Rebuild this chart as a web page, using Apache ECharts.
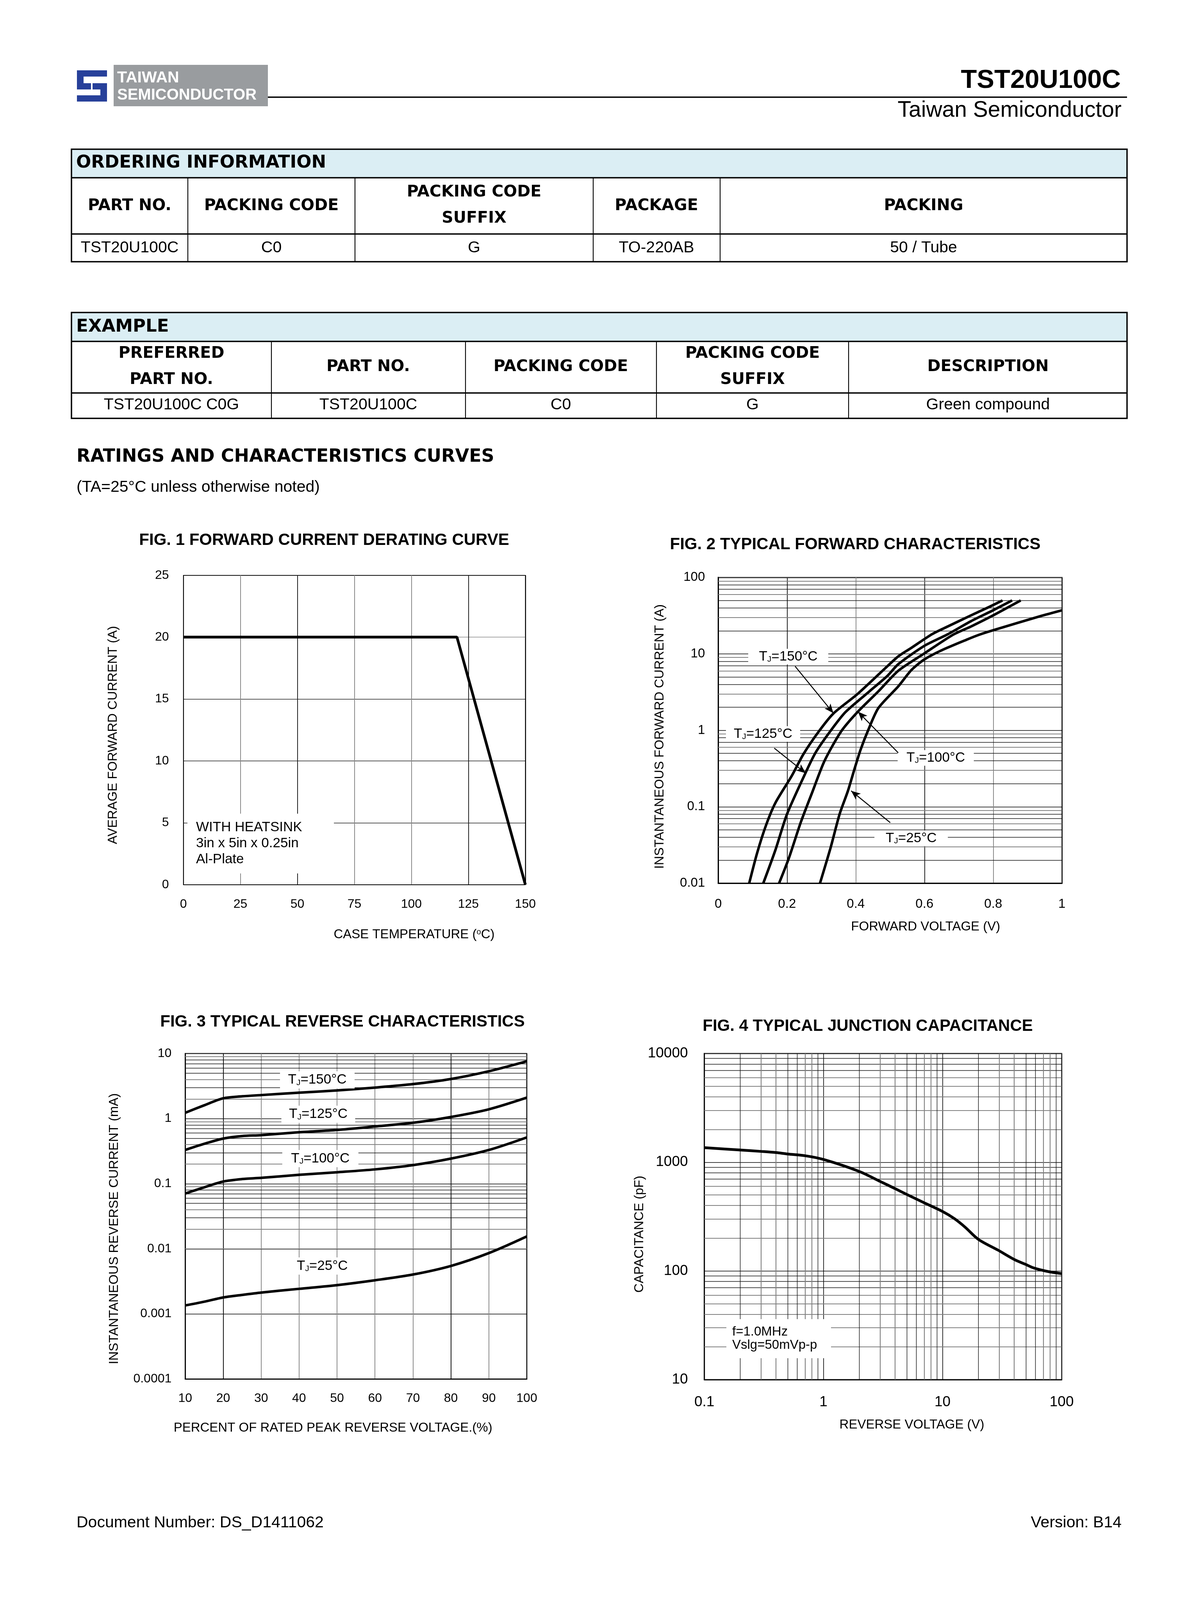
<!DOCTYPE html>
<html><head><meta charset="utf-8">
<script src="https://cdn.jsdelivr.net/npm/echarts@6/dist/echarts.min.js"></script>
<style>html,body{margin:0;padding:0;background:#fff}#c{width:3037px;height:4300px}</style>
</head><body><div id="c"></div>
<script>
const FONT='"Liberation Sans", Arial, Helvetica, sans-serif';
const HFONT='"DejaVu Sans", Verdana, sans-serif';

// ---------- Fig. 1 forward current derating ----------
const derateTemp=[0,120,150];
const derateCurrent=[20,20,0];
const fig1XTicks=['0','25','50','75','100','125','150'];
const fig1YTicks=['0','5','10','15','20','25'];

// ---------- Fig. 2 typical forward characteristics [V, A] ----------
const vf150=[[0.09,0.01],[0.113,0.0248],[0.139,0.0574],[0.166,0.112],[0.213,0.25],[0.248,0.49],[0.292,0.96],[0.335,1.66],[0.405,2.98],[0.475,5.84],[0.524,9.3],[0.562,12],[0.622,18.1],[0.660,22],[0.736,32],[0.789,41.3],[0.827,50]];
const vf125=[[0.131,0.01],[0.166,0.027],[0.200,0.080],[0.253,0.272],[0.283,0.51],[0.325,0.96],[0.370,1.73],[0.440,3.24],[0.492,5.15],[0.524,7.35],[0.599,12.7],[0.668,18.1],[0.736,26.9],[0.797,36.7],[0.855,50]];
const vf100=[[0.177,0.01],[0.205,0.021],[0.240,0.0625],[0.274,0.157],[0.309,0.397],[0.357,0.96],[0.405,1.73],[0.466,3.24],[0.524,6.03],[0.599,10.1],[0.683,17.8],[0.736,22.9],[0.797,31.4],[0.880,50]];
const vf25=[[0.296,0.01],[0.327,0.0293],[0.353,0.080],[0.377,0.16],[0.396,0.308],[0.414,0.556],[0.436,1.0],[0.466,1.96],[0.524,3.77],[0.562,6.15],[0.599,8.43],[0.649,11.1],[0.725,15.5],[0.759,17.8],[0.800,20.4],[0.940,31.4],[1.0,37.2]];
const fig2XTicks=['0','0.2','0.4','0.6','0.8','1'];
const fig2YTicks=['0.01','0.1','1','10','100'];

// ---------- Fig. 3 typical reverse characteristics (mA) ----------
const pctRated=[10,15,20,25,30,40,50,60,70,80,90,100];
const ir150=[1.23,1.6,2.05,2.2,2.3,2.5,2.71,3.0,3.39,4.06,5.34,7.6];
const ir125=[0.33,0.41,0.494,0.54,0.558,0.618,0.67,0.757,0.863,1.06,1.39,2.1];
const ir100=[0.0707,0.088,0.108,0.118,0.123,0.137,0.15,0.166,0.193,0.243,0.33,0.515];
const ir25=[0.00135,0.00154,0.00179,0.00196,0.00213,0.00243,0.00277,0.00329,0.00403,0.00546,0.0086,0.0155];
const fig3XTicks=['10','20','30','40','50','60','70','80','90','100'];
const fig3YTicks=['0.0001','0.001','0.01','0.1','1','10'];

// ---------- Fig. 4 typical junction capacitance ----------
const vr=[0.1,0.2,0.3,0.4,0.5,0.7,1,2,3,4,5,6.9,10,12.6,15.5,20,29.3,40.2,50,58.5,78,100];
const cj=[1360,1295,1257,1227,1190,1148,1060,822,665,571,506,427,352,302,252,195,155,127,114.6,106.4,98.4,94.4];
const fig4XTicks=['0.1','1','10','100'];
const fig4YTicks=['10','100','1000','10000'];

// minor log grid multipliers
const minorMult=[2,3,4,5,6,7,8,9];

function pair(xs,ys){return xs.map((x,i)=>[x,ys[i]]);}
function logFmt(ticks){return v=>ticks.find(t=>Math.abs(Math.log10(+t)-Math.log10(v))<1e-6)||'';}
function minorLines(key,decades,grayMult){
  const out=[];
  decades.forEach(d=>minorMult.forEach(m=>{
    const g=grayMult.indexOf(m)>=0;
    out.push({[key]:+(m*d).toPrecision(4),lineStyle:{color:g?'#808080':'#111',width:g?2.2:1.4,type:'solid'}});
  }));
  return out;
}
function gridHost(xi,lines){
  return {type:'line',xAxisIndex:xi,yAxisIndex:xi,data:[],silent:true,
    markLine:{silent:true,animation:false,z:1,symbol:['none','none'],label:{show:false},emphasis:{disabled:true},data:lines}};
}
const tickLbl=(size,margin)=>({color:'#000',fontSize:size,fontFamily:FONT,margin:margin});
const nameStyle=(pad)=>({color:'#000',fontSize:33,fontFamily:FONT,padding:pad});
const RICH={t:{fontSize:35,fontFamily:FONT,color:'#000',lineHeight:36},s:{fontSize:21,fontFamily:FONT,color:'#000',lineHeight:16,verticalAlign:'bottom'}};
function tjLabel(coord,w,h,txt){
  return {coord:coord,symbol:'rect',symbolSize:[w,h],itemStyle:{color:'#fff'},
    label:{show:true,position:'inside',formatter:'{t|T}{s|J}{t|'+txt+'}',rich:RICH}};
}
function arrow(a,b){return [{coord:a},{coord:b}];}

// ---------- page graphics (header, tables, headings) ----------
function T(text,x,y,size,o){o=o||{};return {type:'text',z:50,style:{text:text,x:x,y:y,fontSize:size,fontFamily:o.ff||FONT,fontWeight:o.fw||'normal',fill:o.fill||'#000',align:o.align||'left',verticalAlign:'middle'}};}
function R(x,y,w,h,fill,z){return {type:'rect',z:z||40,shape:{x:x,y:y,width:w,height:h},style:{fill:fill}};}
function Ln(x1,y1,x2,y2,w){return {type:'line',z:45,shape:{x1:x1,y1:y1,x2:x2,y2:y2},style:{stroke:'#000',lineWidth:w}};}
function Box(x,y,w,h,lw){return {type:'rect',z:46,shape:{x:x,y:y,width:w,height:h},style:{fill:'none',stroke:'#000',lineWidth:lw}};}

const g=[];
// logo
const BLUE='#27409a';
g.push(R(291,166,395,106,'#999c9f'));
g.push(R(197,180,77,16,BLUE),R(197,180,17,45,BLUE),R(197,213,77,16,BLUE),R(257,213,17,47,BLUE),R(197,244,77,16,BLUE));
g.push(R(233,196,4,48,'#ffffff',41));
g.push(T('TAIWAN',300,200,41,{fw:'bold',fill:'#ffffff'}));
g.push(T('SEMICONDUCTOR',300,244,40,{fw:'bold',fill:'#ffffff'}));
g.push(R(686,247,2200,3.5,'#000'));
g.push(T('TST20U100C',2870,207,67,{fw:'bold',align:'right'}));
g.push(T('Taiwan Semiconductor',2872,283,57,{align:'right'}));

// table 1
g.push(R(183,382,2703,73,'#dbeef4',39));
g.push(Box(183,382,2703,288,3.5),Ln(183,455,2886,455,3.5),Ln(183,599,2886,599,3.5));
[481,909,1519,1844].forEach(x=>g.push(Ln(x,455,x,670,2.2)));
g.push(T('ORDERING INFORMATION',195,417,45,{ff:HFONT,fw:'bold'}));
const HB={ff:HFONT,fw:'bold',align:'center'};
g.push(T('PART NO.',332,527,41,HB),T('PACKING CODE',695,527,41,HB),T('PACKING CODE',1214,492,41,HB),T('SUFFIX',1214,559,41,HB),T('PACKAGE',1681,527,41,HB),T('PACKING',2365,527,41,HB));
const CC={align:'center'};
g.push(T('TST20U100C',332,635,41,CC),T('C0',695,635,41,CC),T('G',1214,635,41,CC),T('TO-220AB',1681,635,41,CC),T('50 / Tube',2365,635,41,CC));

// table 2
g.push(R(183,800,2703,74,'#dbeef4',39));
g.push(Box(183,800,2703,271,3.5),Ln(183,874,2886,874,3.5),Ln(183,1006,2886,1006,3.5));
[695,1192,1681,2173].forEach(x=>g.push(Ln(x,874,x,1071,2.2)));
g.push(T('EXAMPLE',195,837,45,{ff:HFONT,fw:'bold'}));
g.push(T('PREFERRED',439,905,41,HB),T('PART NO.',439,972,41,HB),T('PART NO.',943,939,41,HB),T('PACKING CODE',1436,939,41,HB),T('PACKING CODE',1927,905,41,HB),T('SUFFIX',1927,972,41,HB),T('DESCRIPTION',2530,939,41,HB));
g.push(T('TST20U100C C0G',439,1037,41,CC),T('TST20U100C',943,1037,41,CC),T('C0',1436,1037,41,CC),T('G',1927,1037,41,CC),T('Green compound',2530,1037,41,CC));

// headings
g.push(T('RATINGS AND CHARACTERISTICS CURVES',196,1170,46,{ff:HFONT,fw:'bold'}));
g.push(T('(TA=25°C unless otherwise noted)',196,1248,41));
// figure titles
g.push(T('FIG. 1 FORWARD CURRENT DERATING CURVE',830,1383,42,{fw:'bold',align:'center'}));
g.push(T('FIG. 2 TYPICAL FORWARD CHARACTERISTICS',2190,1394,42,{fw:'bold',align:'center'}));
g.push(T('FIG. 3 TYPICAL REVERSE CHARACTERISTICS',877,2616,42,{fw:'bold',align:'center'}));
g.push(T('FIG. 4 TYPICAL JUNCTION CAPACITANCE',2222,2627,42,{fw:'bold',align:'center'}));
// footer
g.push(T('Document Number: DS_D1411062',196,3899,41));
g.push(T('Version: B14',2872,3899,41,{align:'right'}));

const chart=echarts.init(document.getElementById('c'),null,{renderer:'canvas'});
chart.setOption({
  animation:false,
  backgroundColor:'#ffffff',
  textStyle:{fontFamily:FONT},
  graphic:g,
  grid:[
    {left:469.6,top:1472.7,width:875.7,height:792,show:true,borderColor:'#000',borderWidth:1.6,outerBoundsMode:'none'},
    {left:1839.3,top:1478.3,width:880,height:782.7,show:true,borderColor:'#8c8c8c',borderWidth:3.5,outerBoundsMode:'none'},
    {left:474.3,top:2697,width:874.7,height:833.3,show:true,borderColor:'#8c8c8c',borderWidth:3,outerBoundsMode:'none'},
    {left:1803.6,top:2697,width:915,height:834.8,show:true,borderColor:'#8c8c8c',borderWidth:3.5,outerBoundsMode:'none'}
  ],
  xAxis:[
    {gridIndex:0,type:'value',min:0,max:150,interval:25,
     axisLine:{show:true,onZero:false,lineStyle:{color:'#000',width:1.6}},axisTick:{show:false},
     axisLabel:Object.assign(tickLbl(32,34),{formatter:(v)=>fig1XTicks[Math.round(v/25)]}),
     splitLine:{show:true,lineStyle:{color:['#000','#8a8a8a','#222','#8a8a8a','#8a8a8a','#222','#000'],width:2}},
     name:'CASE TEMPERATURE ({sup|o}C)',nameLocation:'middle',nameGap:112,
     nameTextStyle:Object.assign(nameStyle([0,0,0,306]),{rich:{sup:{fontSize:20,fontFamily:FONT,color:'#000',verticalAlign:'top',lineHeight:20}}})},
    {gridIndex:1,type:'value',min:0,max:1,interval:0.2,
     axisLine:{show:true,onZero:false,lineStyle:{color:'#000',width:3}},axisTick:{show:false},
     axisLabel:Object.assign(tickLbl(33,37),{formatter:(v)=>fig2XTicks[Math.round(v/0.2)]}),
     splitLine:{show:true,lineStyle:{color:['#000','#222','#8a8a8a','#222','#8a8a8a','#000'],width:2}},
     name:'FORWARD VOLTAGE (V)',nameLocation:'middle',nameGap:95,nameTextStyle:nameStyle([0,0,0,182])},
    {gridIndex:2,type:'value',min:10,max:100,interval:10,
     axisLine:{show:true,onZero:false,lineStyle:{color:'#000',width:2.5}},axisTick:{show:false},
     axisLabel:Object.assign(tickLbl(32,34),{formatter:(v)=>fig3XTicks[Math.round(v/10)-1]}),
     splitLine:{show:true,lineStyle:{color:['#000','#111','#8a8a8a','#8a8a8a','#8a8a8a','#8a8a8a','#8a8a8a','#111','#8a8a8a','#000'],width:2}},
     name:'PERCENT OF RATED PEAK REVERSE VOLTAGE.(%)',nameLocation:'middle',nameGap:109,nameTextStyle:nameStyle([0,118,0,0])},
    {gridIndex:3,type:'log',logBase:10,min:0.1,max:100,
     axisLine:{show:true,onZero:false,lineStyle:{color:'#000',width:2.5}},axisTick:{show:false},
     axisLabel:Object.assign(tickLbl(37,39),{formatter:logFmt(fig4XTicks)}),
     splitLine:{show:true,lineStyle:{color:'#000',width:1.6}},
     name:'REVERSE VOLTAGE (V)',nameLocation:'middle',nameGap:100,nameTextStyle:nameStyle([0,0,0,148])}
  ],
  yAxis:[
    {gridIndex:0,type:'value',min:0,max:25,interval:5,
     axisLine:{show:true,onZero:false,lineStyle:{color:'#000',width:1.6}},axisTick:{show:false},
     axisLabel:Object.assign(tickLbl(32,37),{formatter:(v)=>fig1YTicks[Math.round(v/5)]}),
     splitLine:{show:true,lineStyle:{color:['#000','#222','#222','#222','#8a8a8a','#000'],width:1.6}},
     name:'AVERAGE FORWARD CURRENT (A)',nameLocation:'middle',nameGap:163,nameTextStyle:nameStyle([0,26,0,0])},
    {gridIndex:1,type:'log',logBase:10,min:0.01,max:100,
     axisLine:{show:true,onZero:false,lineStyle:{color:'#000',width:3}},axisTick:{show:false},
     axisLabel:Object.assign(tickLbl(33,34),{formatter:logFmt(fig2YTicks)}),
     splitLine:{show:true,lineStyle:{color:'#000',width:1.6}},
     name:'INSTANTANEOUS FORWARD CURRENT (A)',nameLocation:'middle',nameGap:133,nameTextStyle:nameStyle([0,32,0,0])},
    {gridIndex:2,type:'log',logBase:10,min:0.0001,max:10,
     axisLine:{show:true,onZero:false,lineStyle:{color:'#000',width:2.5}},axisTick:{show:false},
     axisLabel:Object.assign(tickLbl(32,35),{formatter:logFmt(fig3YTicks)}),
     splitLine:{show:true,lineStyle:{color:'#000',width:1.6}},
     name:'INSTANTANEOUS REVERSE CURRENT (mA)',nameLocation:'middle',nameGap:165,nameTextStyle:nameStyle([0,64,0,0])},
    {gridIndex:3,type:'log',logBase:10,min:10,max:10000,
     axisLine:{show:true,onZero:false,lineStyle:{color:'#000',width:2.5}},axisTick:{show:false},
     axisLabel:Object.assign(tickLbl(37,42),{formatter:logFmt(fig4YTicks)}),
     splitLine:{show:true,lineStyle:{color:'#000',width:1.6}},
     name:'CAPACITANCE (pF)',nameLocation:'middle',nameGap:127,nameTextStyle:nameStyle([0,90,0,0])}
  ],
  series:[
    // Fig 1
    {type:'line',xAxisIndex:0,yAxisIndex:0,data:pair(derateTemp,derateCurrent),symbol:'none',z:3,
     lineStyle:{color:'#000',width:7},
     markPoint:{silent:true,animation:false,z:5,data:[{coord:[33.9,3.32],symbol:'rect',symbolSize:[375,153],itemStyle:{color:'#fff'},
       label:{show:true,position:'insideLeft',distance:22,color:'#000',fontSize:35,lineHeight:41,fontFamily:FONT,align:'left',
       formatter:'WITH HEATSINK\n3in x 5in x 0.25in\nAl-Plate'}}]}},
    // Fig 2
    gridHost(1,minorLines('yAxis',[0.01,0.1,1,10],[3,6,9])),
    {type:'line',xAxisIndex:1,yAxisIndex:1,data:vf150,symbol:'none',smooth:0.25,z:3,lineStyle:{color:'#000',width:6.5}},
    {type:'line',xAxisIndex:1,yAxisIndex:1,data:vf125,symbol:'none',smooth:0.25,z:3,lineStyle:{color:'#000',width:6.5}},
    {type:'line',xAxisIndex:1,yAxisIndex:1,data:vf100,symbol:'none',smooth:0.25,z:3,lineStyle:{color:'#000',width:6.5}},
    {type:'line',xAxisIndex:1,yAxisIndex:1,data:vf25,symbol:'none',smooth:0.25,z:3,lineStyle:{color:'#000',width:6.5}},
    {type:'line',xAxisIndex:1,yAxisIndex:1,data:[],silent:true,
     markPoint:{silent:true,animation:false,z:5,data:[
       tjLabel([0.2036,9.2],205,40,'=150°C'),
       tjLabel([0.1303,0.895],190,40,'=125°C'),
       tjLabel([0.6328,0.436],195,40,'=100°C'),
       tjLabel([0.5612,0.0387],188,40,'=25°C')]},
     markLine:{silent:true,animation:false,z:6,symbol:['none','arrow'],symbolSize:[15,24],label:{show:false},
       lineStyle:{color:'#000',width:2.5,type:'solid'},data:[
       arrow([0.2236,6.88],[0.335,1.675]),
       arrow([0.1629,0.585],[0.2543,0.275]),
       arrow([0.5236,0.508],[0.4066,1.75]),
       arrow([0.5005,0.062],[0.3865,0.1617])]}},
    // Fig 3
    gridHost(2,minorLines('yAxis',[0.0001,0.001,0.01,0.1,1],[2,4,9])),
    {type:'line',xAxisIndex:2,yAxisIndex:2,data:pair(pctRated,ir150),symbol:'none',smooth:0.3,z:3,lineStyle:{color:'#000',width:6.5}},
    {type:'line',xAxisIndex:2,yAxisIndex:2,data:pair(pctRated,ir125),symbol:'none',smooth:0.3,z:3,lineStyle:{color:'#000',width:6.5}},
    {type:'line',xAxisIndex:2,yAxisIndex:2,data:pair(pctRated,ir100),symbol:'none',smooth:0.3,z:3,lineStyle:{color:'#000',width:6.5}},
    {type:'line',xAxisIndex:2,yAxisIndex:2,data:pair(pctRated,ir25),symbol:'none',smooth:0.3,z:3,lineStyle:{color:'#000',width:6.5}},
    {type:'line',xAxisIndex:2,yAxisIndex:2,data:[],silent:true,
     markPoint:{silent:true,animation:false,z:5,data:[
       tjLabel([44.8,3.94],191,44,'=150°C'),
       tjLabel([45.06,1.168],189,44,'=125°C'),
       tjLabel([45.6,0.243],195,44,'=100°C'),
       tjLabel([46.1,0.00545],163,44,'=25°C')]}},
    // Fig 4
    gridHost(3,minorLines('yAxis',[10,100,1000],[2,3,4,5,6]).concat(minorLines('xAxis',[0.1,1,10],[3,4,7,8]))),
    {type:'line',xAxisIndex:3,yAxisIndex:3,data:pair(vr,cj),symbol:'none',smooth:0.3,z:3,lineStyle:{color:'#000',width:7},
     markPoint:{silent:true,animation:false,z:5,data:[{coord:[0.421,23.8],symbol:'rect',symbolSize:[268,100],itemStyle:{color:'#fff'},
       label:{show:true,position:'insideLeft',distance:15,color:'#000',fontSize:33,lineHeight:34,fontFamily:FONT,align:'left',
       formatter:'f=1.0MHz\nVslg=50mVp-p'}}]}}
  ]
});
</script></body></html>
